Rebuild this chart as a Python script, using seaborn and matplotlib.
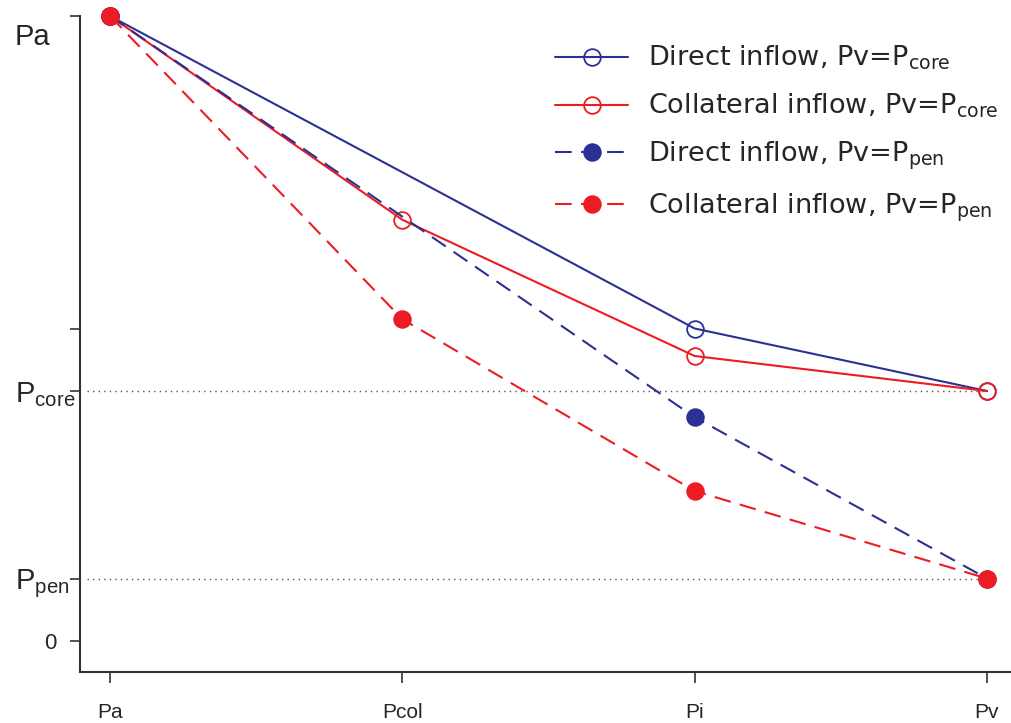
import matplotlib
matplotlib.use("Agg")
import matplotlib.pyplot as plt
import matplotlib.transforms as mtransforms
import seaborn as sns
import numpy as np
import pandas as pd

# ---- data ----
stations = ["Pa", "Pcol", "Pi", "Pv"]
direct_core = [100, np.nan, 50, 40]
collateral_core = [100, 67.4, 45.6, 40]
direct_pen = [100, np.nan, 35.8, 10]
collateral_pen = [100, 51.5, 24, 10]
p_core = 40
p_pen = 10
ytick_vals = [0, 10, 40, 50, 100]
ytick_labels = ["0", r"$\mathregular{P_{pen}}$", r"$\mathregular{P_{core}}$", "", "Pa"]
series_labels = [
    r"Direct inflow, Pv=P$_{\mathregular{core}}$",
    r"Collateral inflow, Pv=P$_{\mathregular{core}}$",
    r"Direct inflow, Pv=P$_{\mathregular{pen}}$",
    r"Collateral inflow, Pv=P$_{\mathregular{pen}}$",
]

sns.set_style("ticks")
plt.rcParams["font.family"] = ["Liberation Sans", "DejaVu Sans"]
plt.rcParams["mathtext.fontset"] = "custom"
plt.rcParams["mathtext.rm"] = "Liberation Sans"
plt.rcParams["mathtext.it"] = "Liberation Sans:italic"

BLUE = "#2B3192"
RED = "#ED1C24"

fig = plt.figure(figsize=(10.11, 7.23), dpi=100)
W, H = 1011, 723
ax = fig.add_axes([80 / W, (H - 672) / H, (1011 - 80) / W, (672 - 16) / H])

xpos = np.arange(len(stations))
DASH = (0, (8, 4.5))
specs = [
    (direct_core, BLUE, "-", "none"),
    (collateral_core, RED, "-", "none"),
    (direct_pen, BLUE, DASH, BLUE),
    (collateral_pen, RED, DASH, RED),
]
for (vals, col, ls, mfc), lab in zip(specs, series_labels):
    df = pd.DataFrame({"x": xpos, "y": vals}).dropna()
    sns.lineplot(data=df, x="x", y="y", ax=ax, color=col, linestyle=ls,
                 linewidth=1.5, marker="o", markersize=12,
                 markerfacecolor=mfc, markeredgecolor=col, markeredgewidth=1.3,
                 label=lab, clip_on=False, zorder=3)

ax.hlines([p_core, p_pen], xmin=-0.08, xmax=3, colors="#555555",
          linestyles=(0, (1, 3)), linewidth=1, zorder=1)

ax.set_xlim(-30 / 292.33, 3 + 24 / 292.33)
ax.set_ylim(-4.96, 100)
ax.set_xticks(xpos)
ax.set_xticklabels(stations, fontsize=15)
ax.set_yticks(ytick_vals)
# "0" stays a regular tick label; the P labels are left-aligned at the figure edge
ax.set_yticklabels([ytick_labels[0]] + [""] * (len(ytick_vals) - 1), fontsize=16)
ax.set_xlabel("")
ax.set_ylabel("")

trans = mtransforms.blended_transform_factory(fig.transFigure, ax.transData)
x_left = 15 / W
t_top = trans + mtransforms.ScaledTranslation(0, -7 / 100, fig.dpi_scale_trans)
ax.text(x_left, ytick_vals[4], ytick_labels[4], transform=t_top, fontsize=21,
        ha="left", va="top", clip_on=False)
for yv, lab in [(ytick_vals[2], ytick_labels[2]), (ytick_vals[1], ytick_labels[1])]:
    t = trans + mtransforms.ScaledTranslation(0, -11 / 100, fig.dpi_scale_trans)
    ax.text(x_left, yv, lab, transform=t, fontsize=21, ha="left",
            va="baseline", clip_on=False)

for s in ["top", "right"]:
    ax.spines[s].set_visible(False)
for s in ["left", "bottom"]:
    ax.spines[s].set_color("#333333")
    ax.spines[s].set_linewidth(1.5)
ax.tick_params(axis="y", direction="out", length=7, width=1.2, color="#333333", pad=10)
ax.tick_params(axis="x", direction="out", length=8, width=1.2, color="#333333", pad=14)

leg = ax.legend(loc="upper left", bbox_to_anchor=(555 / W, 1 - 44 / H),
                bbox_transform=fig.transFigure, frameon=False,
                prop={"family": ["DejaVu Sans"], "size": 19.5},
                handlelength=2.7, handletextpad=0.74, labelspacing=0.72,
                borderpad=0, borderaxespad=0)

fig.savefig("out.png", dpi=100)
